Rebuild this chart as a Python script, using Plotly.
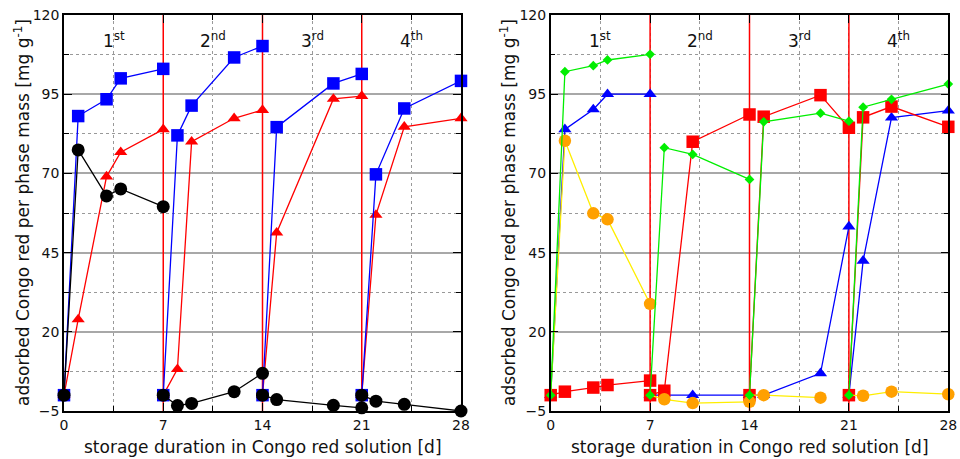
import plotly.graph_objects as go

# ---------------- data ----------------
CYCLE_BOUNDS = [7, 14, 21]
CYCLE_LABELS = ["1<sup>st</sup>", "2<sup>nd</sup>", "3<sup>rd</sup>", "4<sup>th</sup>"]
CYCLE_LABEL_X = [3.5, 10.5, 17.5, 24.5]
CYCLE_LABEL_Y = 112

X_TITLE = "storage duration in Congo red solution [d]"
Y_TITLE = "adsorbed Congo red per phase mass [mg g<sup>-1</sup>]"

# Left panel (None separates the storage cycles)
L_X = [0, 1, 3, 4, 7, None, 7, 8, 9, 12, 14, None, 14, 15, 19, 21, None, 21, 22, 24, 28]
L_BLUE = [0, 88.1, 93.4, 100.0, 103.0, None, 0, 82.0, 91.4, 106.6, 110.2, None,
          0, 84.6, 98.4, 101.4, None, 0, 69.7, 90.5, 99.2]
L_RED = [0, 23.9, 69.0, 76.7, 83.9, None, 0, 8.2, 80.0, 87.4, 90.0, None,
         0, 51.3, 93.5, 94.4, None, 0, 56.9, 84.7, 87.4]
L_BLACK = [0, 77.4, 62.9, 65.1, 59.5, None, 0, -3.3, -2.6, 1.1, 6.9, None,
           0, -1.4, -3.2, -4.0, None, 0, -1.9, -2.9, -5.0]

# Right panel
R_X = [0, 1, 3, 4, 7, None, 7, 8, 10, 14, None, 14, 15, 19, 21, None, 21, 22, 24, 28]
R_GREEN = [0, 102.1, 104.0, 105.8, 107.6, None, 0, 78.1, 76.0, 68.1, None,
           0, 86.3, 89.0, 86.5, None, 0, 90.9, 93.4, 98.2]
R_BLUE = [0, 83.9, 90.2, 95.0, 95.0, None, 0, None, 0, 0, None,
          0, 0, 6.9, 53.2, None, 0, 42.4, 87.6, 89.8]
R_RED = [0, 1.1, 2.4, 3.2, 4.6, None, 0, 1.4, 80.0, 88.6, None,
         0, 87.9, 94.7, 84.4, None, 0, 87.7, 91.1, 84.7]
R_ORANGE = [0, 80.3, 57.4, 55.5, 28.8, None, 0, -1.3, -2.5, -2.1, None,
            0, 0.0, -0.8, None, None, 0, -0.2, 1.1, 0.3]

X_TICKS = [0, 7, 14, 21, 28]
Y_TICKS = [-5, 20, 45, 70, 95, 120]
Y_RANGE = [-5, 120]
X_RANGE = [0, 28]

FONT = "DejaVu Sans"

fig = go.Figure()


def clean(xs, ys):
    ox, oy = [], []
    for x, y in zip(xs, ys):
        if x is None:
            ox.append(None); oy.append(None)
        elif y is not None:
            ox.append(x); oy.append(y)
    return ox, oy


def start_sizes(xs, size):
    out = []
    prev = None
    for x in xs:
        if x is None or prev is None:
            out.append(0)
        else:
            out.append(size)
        prev = x
    return out


def add(xs, ys, color, symbol, size, axes, lcolor=None, hide_start=False):
    ox, oy = clean(xs, ys)
    marker = dict(color=color, symbol=symbol, size=size, line=dict(width=0), opacity=1)
    if hide_start:
        marker["size"] = start_sizes(ox, size)
    fig.add_trace(go.Scatter(
        x=ox, y=oy, mode="lines+markers",
        line=dict(color=lcolor or color, width=1.3),
        marker=marker, xaxis=axes[0], yaxis=axes[1],
        showlegend=False, connectgaps=False, cliponaxis=False))


def add_bounds(axes):
    bx, by = [], []
    for b in CYCLE_BOUNDS:
        bx += [b, b, None]
        by += [Y_RANGE[0], Y_RANGE[1], None]
    fig.add_trace(go.Scatter(x=bx, y=by, mode="lines", line=dict(color="#ff0000", width=1.5),
                             xaxis=axes[0], yaxis=axes[1], showlegend=False, hoverinfo="skip"))


# left panel
add_bounds(("x", "y"))
add(L_X, L_RED, "#ff0000", "triangle-up", 11.5, ("x", "y"))
add(L_X, L_BLUE, "#0000ff", "square", 12.5, ("x", "y"))
add(L_X, L_BLACK, "#000000", "circle", 13, ("x", "y"))

# right panel
add_bounds(("x2", "y2"))
add(R_X, R_BLUE, "#0000ff", "triangle-up", 11.5, ("x2", "y2"))
add(R_X, R_RED, "#ff0000", "square", 12.5, ("x2", "y2"))
add(R_X, R_ORANGE, "#ffa000", "circle", 12.5, ("x2", "y2"), lcolor="#ffee00", hide_start=True)
add(R_X, R_GREEN, "#00ee00", "diamond", 7.5, ("x2", "y2"))

annotations = []
for xr, yr in (("x", "y"), ("x2", "y2")):
    for lx, lt in zip(CYCLE_LABEL_X, CYCLE_LABELS):
        annotations.append(dict(x=lx, y=CYCLE_LABEL_Y, xref=xr, yref=yr, text=lt, showarrow=False,
                                font=dict(family=FONT, size=17, color="#111")))

XD = [[64 / 960, 461 / 960], [550.7 / 960, 948.3 / 960]]
YD = [1 - 411 / 459, 1 - 15 / 459]

for d in XD:
    annotations.append(dict(x=(d[0] + d[1]) / 2, y=1 - 447 / 459, xref="paper", yref="paper",
                            text=X_TITLE, showarrow=False, xanchor="center", yanchor="middle",
                            font=dict(family=FONT, size=17, color="#111")))
for px in (22, 508):
    annotations.append(dict(x=px / 960, y=(YD[0] + YD[1]) / 2, xref="paper", yref="paper",
                            text=Y_TITLE, showarrow=False, textangle=-90,
                            xanchor="center", yanchor="middle",
                            font=dict(family=FONT, size=17, color="#111")))

axis_common = dict(
    showline=True, linecolor="black", linewidth=1.5, mirror="allticks",
    ticks="inside", ticklen=8, tickwidth=1.3, tickcolor="black",
    gridcolor="#a8a8a8", gridwidth=1.5,
    zeroline=False, automargin=False,
    tickfont=dict(family=FONT, size=14, color="#111"),
)

xa = dict(axis_common, range=X_RANGE, tickvals=X_TICKS, showgrid=False,
          minor=dict(dtick=3.5, tick0=0, ticks="inside", ticklen=5, tickcolor="black",
                     showgrid=True, gridcolor="#999999", griddash="dot", gridwidth=1))
ya = dict(axis_common, range=Y_RANGE, tickvals=Y_TICKS, showgrid=True,
          minor=dict(dtick=12.5, tick0=-5, ticks="inside", ticklen=5, tickcolor="black",
                     showgrid=True, gridcolor="#999999", griddash="dot", gridwidth=1))

fig.update_layout(
    width=960, height=459,
    margin=dict(l=0, r=0, t=0, b=0, pad=0, autoexpand=False),
    paper_bgcolor="white", plot_bgcolor="white",
    xaxis=dict(xa, domain=XD[0], anchor="y"),
    yaxis=dict(ya, domain=YD, anchor="x"),
    xaxis2=dict(xa, domain=XD[1], anchor="y2"),
    yaxis2=dict(ya, domain=YD, anchor="x2"),
    annotations=annotations,
    font=dict(family=FONT),
)

fig.write_html("out.html")
